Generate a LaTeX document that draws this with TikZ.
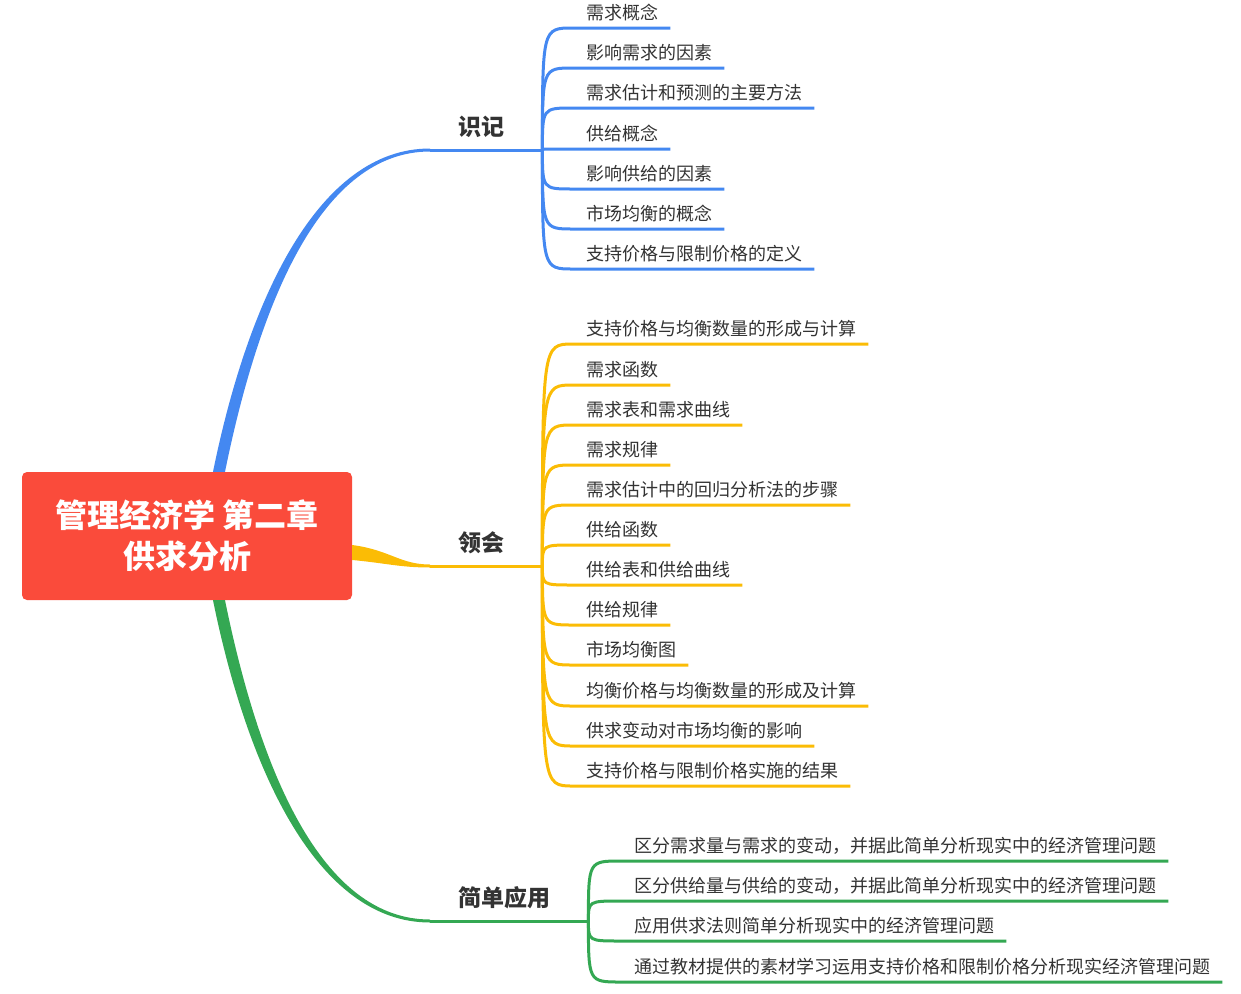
\documentclass[tikz,border=0pt]{standalone}
\usepackage{fontspec}
\setmainfont{Noto Sans CJK SC}
\usetikzlibrary{calc}
\definecolor{xm_red}{HTML}{FA4B3B}
\definecolor{xm_blue}{HTML}{4488F1}
\definecolor{xm_yellow}{HTML}{FBBC05}
\definecolor{xm_green}{HTML}{34A853}
\definecolor{txt_gray}{HTML}{333333}
\begin{document}
\begin{tikzpicture}[x=1pt,y=-1pt]
	\tikzset{root_box/.style={fill=xm_red, rounded corners=5pt, minimum width=330pt, minimum height=128pt, inner sep=0pt, text=white, align=center, font=\fontsize{32}{41}\selectfont\bfseries}}
	\tikzset{topic/.style={anchor=south west, inner xsep=0pt, inner ysep=11.5pt, text depth=3pt, text=txt_gray, font=\fontsize{23}{26}\selectfont\bfseries, execute at begin node=\hspace*{28pt}, execute at end node=\hspace*{38pt}}}
	\tikzset{leaf/.style={anchor=south west, inner xsep=0pt, inner ysep=5pt, text depth=3pt, text=txt_gray, font=\fontsize{18}{20}\selectfont, execute at begin node=\hspace*{13pt}, execute at end node=\hspace*{12pt}}}
	\tikzset{twig/.style={line width=3pt}}
	\useasboundingbox (0,0) rectangle (1241,993);
	\node[root_box] (root) at (187,536) {管理经济学 第二章\\供求分析};
	\node[topic] (shiji) at (430,150) {识记};
	\node[topic] (linghui) at (430,566) {领会};
	\node[topic] (yingyong) at (430,921) {简单应用};
	% main branches
	\fill[xm_blue] ($(root.north)+(26,0)$) .. controls (248,300) and (318,148.5) .. ($(shiji.south west)+(0,-1.5)$) -- ($(shiji.south west)+(0,1.5)$) .. controls (322,151.5) and (260,300) .. ($(root.north)+(38,0)$) -- cycle;
	\fill[xm_yellow] ($(root.east)+(0,9)$) .. controls (390,550) and (400,564.5) .. ($(linghui.south west)+(0,-1.5)$) -- ($(linghui.south west)+(0,1.5)$) .. controls (400,567.5) and (385,563) .. ($(root.east)+(0,24)$) -- cycle;
	\fill[xm_green] ($(root.south)+(26,0)$) .. controls (248,772) and (318,922.5) .. ($(yingyong.south west)+(0,1.5)$) -- ($(yingyong.south west)+(0,-1.5)$) .. controls (322,919.5) and (260,772) .. ($(root.south)+(38,0)$) -- cycle;
	\draw[xm_blue, twig] (shiji.south west) -- (shiji.south east);
	\draw[xm_yellow, twig] (linghui.south west) -- (linghui.south east);
	\draw[xm_green, twig] (yingyong.south west) -- (yingyong.south east);
	% 识记
	\node[leaf] (shiji_1) at (573,28) {需求概念};
	\node[leaf] (shiji_2) at (573,68) {影响需求的因素};
	\node[leaf] (shiji_3) at (573,108) {需求估计和预测的主要方法};
	\node[leaf] (shiji_4) at (573,149) {供给概念};
	\node[leaf] (shiji_5) at (573,189) {影响供给的因素};
	\node[leaf] (shiji_6) at (573,229) {市场均衡的概念};
	\node[leaf] (shiji_7) at (573,269) {支持价格与限制价格的定义};
	\draw[xm_blue, twig] (shiji.south east) .. controls (shiji.south east |- shiji_1.south west) .. (shiji_1.south west) -- (shiji_1.south east);
	\draw[xm_blue, twig] (shiji.south east) .. controls (shiji.south east |- shiji_2.south west) .. (shiji_2.south west) -- (shiji_2.south east);
	\draw[xm_blue, twig] (shiji.south east) .. controls (shiji.south east |- shiji_3.south west) .. (shiji_3.south west) -- (shiji_3.south east);
	\draw[xm_blue, twig] (shiji.south east) .. controls (shiji.south east |- shiji_4.south west) .. (shiji_4.south west) -- (shiji_4.south east);
	\draw[xm_blue, twig] (shiji.south east) .. controls (shiji.south east |- shiji_5.south west) .. (shiji_5.south west) -- (shiji_5.south east);
	\draw[xm_blue, twig] (shiji.south east) .. controls (shiji.south east |- shiji_6.south west) .. (shiji_6.south west) -- (shiji_6.south east);
	\draw[xm_blue, twig] (shiji.south east) .. controls (shiji.south east |- shiji_7.south west) .. (shiji_7.south west) -- (shiji_7.south east);
	% 领会
	\node[leaf] (linghui_1) at (573,344) {支持价格与均衡数量的形成与计算};
	\node[leaf] (linghui_2) at (573,385) {需求函数};
	\node[leaf] (linghui_3) at (573,425) {需求表和需求曲线};
	\node[leaf] (linghui_4) at (573,465) {需求规律};
	\node[leaf] (linghui_5) at (573,505) {需求估计中的回归分析法的步骤};
	\node[leaf] (linghui_6) at (573,545) {供给函数};
	\node[leaf] (linghui_7) at (573,585) {供给表和供给曲线};
	\node[leaf] (linghui_8) at (573,625) {供给规律};
	\node[leaf] (linghui_9) at (573,665) {市场均衡图};
	\node[leaf] (linghui_10) at (573,706) {均衡价格与均衡数量的形成及计算};
	\node[leaf] (linghui_11) at (573,746) {供求变动对市场均衡的影响};
	\node[leaf] (linghui_12) at (573,786) {支持价格与限制价格实施的结果};
	\draw[xm_yellow, twig] (linghui.south east) .. controls (linghui.south east |- linghui_1.south west) .. (linghui_1.south west) -- (linghui_1.south east);
	\draw[xm_yellow, twig] (linghui.south east) .. controls (linghui.south east |- linghui_2.south west) .. (linghui_2.south west) -- (linghui_2.south east);
	\draw[xm_yellow, twig] (linghui.south east) .. controls (linghui.south east |- linghui_3.south west) .. (linghui_3.south west) -- (linghui_3.south east);
	\draw[xm_yellow, twig] (linghui.south east) .. controls (linghui.south east |- linghui_4.south west) .. (linghui_4.south west) -- (linghui_4.south east);
	\draw[xm_yellow, twig] (linghui.south east) .. controls (linghui.south east |- linghui_5.south west) .. (linghui_5.south west) -- (linghui_5.south east);
	\draw[xm_yellow, twig] (linghui.south east) .. controls (linghui.south east |- linghui_6.south west) .. (linghui_6.south west) -- (linghui_6.south east);
	\draw[xm_yellow, twig] (linghui.south east) .. controls (linghui.south east |- linghui_7.south west) .. (linghui_7.south west) -- (linghui_7.south east);
	\draw[xm_yellow, twig] (linghui.south east) .. controls (linghui.south east |- linghui_8.south west) .. (linghui_8.south west) -- (linghui_8.south east);
	\draw[xm_yellow, twig] (linghui.south east) .. controls (linghui.south east |- linghui_9.south west) .. (linghui_9.south west) -- (linghui_9.south east);
	\draw[xm_yellow, twig] (linghui.south east) .. controls (linghui.south east |- linghui_10.south west) .. (linghui_10.south west) -- (linghui_10.south east);
	\draw[xm_yellow, twig] (linghui.south east) .. controls (linghui.south east |- linghui_11.south west) .. (linghui_11.south west) -- (linghui_11.south east);
	\draw[xm_yellow, twig] (linghui.south east) .. controls (linghui.south east |- linghui_12.south west) .. (linghui_12.south west) -- (linghui_12.south east);
	% 简单应用
	\node[leaf] (yingyong_1) at (621,861) {区分需求量与需求的变动，并据此简单分析现实中的经济管理问题};
	\node[leaf] (yingyong_2) at (621,901) {区分供给量与供给的变动，并据此简单分析现实中的经济管理问题};
	\node[leaf] (yingyong_3) at (621,941) {应用供求法则简单分析现实中的经济管理问题};
	\node[leaf] (yingyong_4) at (621,982) {通过教材提供的素材学习运用支持价格和限制价格分析现实经济管理问题};
	\draw[xm_green, twig] (yingyong.south east) .. controls (yingyong.south east |- yingyong_1.south west) .. (yingyong_1.south west) -- (yingyong_1.south east);
	\draw[xm_green, twig] (yingyong.south east) .. controls (yingyong.south east |- yingyong_2.south west) .. (yingyong_2.south west) -- (yingyong_2.south east);
	\draw[xm_green, twig] (yingyong.south east) .. controls (yingyong.south east |- yingyong_3.south west) .. (yingyong_3.south west) -- (yingyong_3.south east);
	\draw[xm_green, twig] (yingyong.south east) .. controls (yingyong.south east |- yingyong_4.south west) .. (yingyong_4.south west) -- (yingyong_4.south east);
\end{tikzpicture}
\end{document}
